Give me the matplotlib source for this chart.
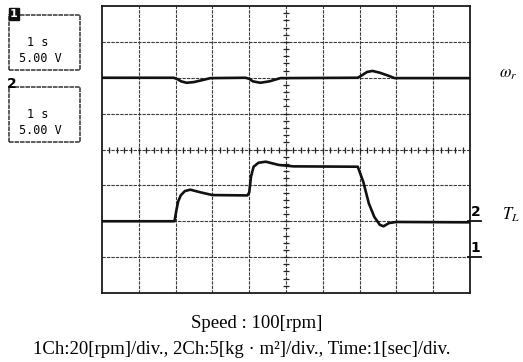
import matplotlib.pyplot as plt
from matplotlib.patches import Rectangle

plt.rcParams['mathtext.fontset'] = 'stix'

# screen is 10 x 8 divisions
n_xdiv = 10
n_ydiv = 8

# channel 1: speed w_r (div)
w_t = [0, 1.95, 2.05, 2.15, 2.3, 2.5, 2.75, 2.95, 3.9, 4.0, 4.1, 4.3, 4.55, 4.85, 6.95,
       7.05, 7.2, 7.35, 7.55, 7.8, 7.95, 10]
w_v = [6.0, 6.0, 5.96, 5.9, 5.86, 5.88, 5.94, 5.99, 6.0, 5.97, 5.9, 5.86, 5.9, 5.99, 6.0,
       6.06, 6.16, 6.19, 6.14, 6.05, 5.99, 5.99]

# channel 2: load torque T_L (div)
t_t = [0, 1.97, 2.02, 2.07, 2.14, 2.25, 2.4, 2.7, 3.0, 3.95, 4.0, 4.05, 4.12, 4.25, 4.45,
       4.8, 5.2, 6.95, 7.1, 7.25, 7.4, 7.55, 7.65, 7.8, 8.0, 10]
t_v = [2.0, 2.0, 2.3, 2.55, 2.72, 2.84, 2.88, 2.8, 2.73, 2.72, 2.8, 3.25, 3.52, 3.63, 3.66,
       3.57, 3.53, 3.52, 3.1, 2.5, 2.12, 1.9, 1.86, 1.95, 1.98, 1.97]

# ground markers for the two channels (div)
gnd_lbl = ['1', '2']
gnd_lvl = [1.0, 2.0]

W, H = 523, 362
fig = plt.figure(figsize=(W / 100, H / 100), dpi=100)
ax = fig.add_axes([102 / W, 1 - 293 / H, 368 / W, 287 / H])
ax.set_xlim(0, n_xdiv)
ax.set_ylim(0, n_ydiv)
ax.set_xticks([])
ax.set_yticks([])
for s in ax.spines.values():
    s.set_linewidth(1.3)
    s.set_color('#1a1a1a')

# graticule
for i in range(1, n_xdiv):
    ax.axvline(i, color='#3a3a3a', lw=0.8, ls=(0, (3, 1)), zorder=1)
for j in range(1, n_ydiv):
    ax.axhline(j, color='#3a3a3a', lw=0.8, ls=(0, (3, 1)), zorder=1)

# centre cross ticks
tx = [k * 0.2 for k in range(1, 50)]
ax.plot(tx, [n_ydiv / 2] * len(tx), '|', ms=5, mew=0.9, color='#222', zorder=2)
ty = [k * 0.2 for k in range(1, 40)]
ax.plot([n_xdiv / 2] * len(ty), ty, '_', ms=5, mew=0.9, color='#222', zorder=2)

# traces
ax.plot(w_t, w_v, color='#111', lw=1.9, zorder=3)
ax.plot(t_t, t_v, color='#111', lw=1.9, zorder=3)

# ground markers at right edge
for lbl, lvl in zip(gnd_lbl, gnd_lvl):
    ax.plot([9.95, 10.3], [lvl, lvl], color='#111', lw=1.3, clip_on=False)
    ax.text(10.15, lvl + 0.05, lbl, fontsize=10, fontweight='bold', ha='center',
            va='bottom', family='DejaVu Sans Condensed')

fig.text(508 / W, 1 - 73 / H, r'$\omega_r$', fontsize=12, ha='center', va='center')
fig.text(511 / W, 1 - 215 / H, r'$T_L$', fontsize=12, ha='center', va='center')

# channel setting boxes
boxes = [(15, 70, '1'), (87, 142, '2')]
for top, bot, ch in boxes:
    fig.patches.append(Rectangle((9 / W, 1 - bot / H), 71 / W, (bot - top) / H,
                                 transform=fig.transFigure, fill=False,
                                 ec='#333', lw=1.1, ls=(0, (3, 0.6))))
    fig.text(38 / W, 1 - (top + 27) / H, '1 s', family='DejaVu Sans Mono',
             fontsize=8.5, ha='center', va='center')
    fig.text(40 / W, 1 - (top + 43) / H, '5.00 V', family='DejaVu Sans Mono',
             fontsize=8.5, ha='center', va='center')
    if ch == '1':
        fig.text(14 / W, 1 - (top - 1) / H, ch, fontsize=8, fontweight='bold', color='white',
                 ha='center', va='center',
                 bbox=dict(boxstyle='square,pad=0.1', fc='#111', ec='#111'))
    else:
        fig.text(12 / W, 1 - (top - 3) / H, ch, fontsize=10, fontweight='bold',
                 ha='center', va='center', family='DejaVu Sans Condensed')

fig.text(257 / W, 1 - 323 / H, 'Speed : 100[rpm]', family='Liberation Serif',
         fontsize=13.5, ha='center', va='center')
fig.text(242 / W, 1 - 349 / H,
         "1Ch:20[rpm]/div., 2Ch:5[kg · m²]/div., Time:1[sec]/div.",
         family='Liberation Serif', fontsize=13.5, ha='center', va='center')

fig.savefig('out.png', dpi=100)
